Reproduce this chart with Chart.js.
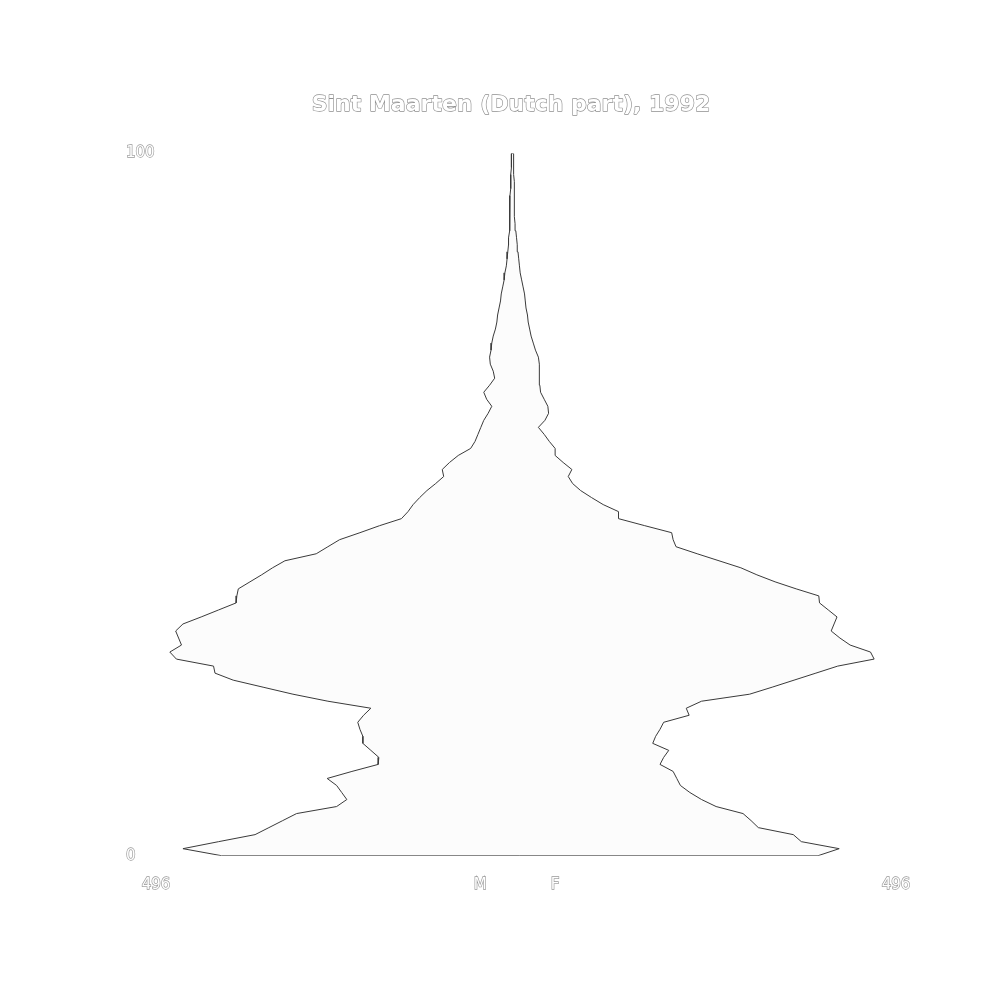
<!DOCTYPE html>
<html>
<head>
<meta charset="utf-8">
<style>
  html, body { margin: 0; padding: 0; background: #ffffff; }
  #wrap { width: 1000px; height: 1000px; }
</style>
<script src="https://cdn.jsdelivr.net/npm/chart.js"></script>
</head>
<body>
<div id="wrap"><canvas id="c" width="1000" height="1000"></canvas></div>
<script>
const titleText = 'Sint Maarten (Dutch part), 1992';

const ages = [0,1,2,3,4,5,6,7,8,9,10,11,12,13,14,15,16,17,18,19,20,21,22,23,24,25,26,27,28,29,30,31,32,33,34,35,36,37,38,39,40,41,42,43,44,45,46,47,48,49,50,51,52,53,54,55,56,57,58,59,60,61,62,63,64,65,66,67,68,69,70,71,72,73,74,75,76,77,78,79,80,81,82,83,84,85,86,87,88,89,90,91,92,93,94,95,96,97,98,99,100];

const males = [400,453,404,354,335,316,297,242,228,235,
  242,255,221,185,184,195,206,206,210,213,
  205,195,254,302,343,384,409,411,462,471,
  455,459,463,453,428,404,380,379,377,361,
  345,330,313,270,254,238,210,183,153,144,
  137,128,118,106,95,97,87,75,58,52,
  48,44,40,34,29,36,40,32,25,27,
  31,32,30,29,27,24,22,21,19,17,
  16,14,12,11,9,8,7,6,6,5,
  5,4,4,4,4,3,3,3,2,2,2];

const females = [419,448,396,385,337,327,316,279,259,243,
  230,225,220,202,207,214,192,196,202,207,
  242,238,259,325,356,386,416,446,496,491,
  463,449,437,441,445,433,421,420,389,360,
  335,313,283,253,224,220,218,181,145,145,
  124,108,93,82,76,81,69,58,58,50,
  43,35,44,49,48,43,38,37,37,36,
  36,35,31,28,25,23,21,20,18,17,
  16,14,12,10,9,8,7,6,5,4,
  3,2,2,2,2,2,2,1,1,1,1];

const xMin = -490, xMax = 526;
const xTickValues = [-490, -45, 58, 526];
const xTickLabels = ['496', 'M', 'F', '496'];
const yTickValues = [0, 100];
const yTickLabels = ['0', '100'];

// polygon: male side (negative) from top to bottom, then female side bottom to top
const outline = [];
for (let i = ages.length - 1; i >= 0; i--) outline.push({ x: -males[i], y: ages[i] });
for (let i = 0; i < ages.length; i++) outline.push({ x: females[i], y: ages[i] });
outline.push({ x: -males[ages.length - 1], y: ages[ages.length - 1] });

const strokeTitle = {
  id: 'strokeTitle',
  afterDraw(chart) {
    const tb = chart.titleBlock;
    if (!tb) return;
    const opts = tb.options;
    const font = Chart.helpers.toFont(opts.font);
    const pad = Chart.helpers.toPadding(opts.padding);
    const x = (tb.left + tb.right) / 2;
    const y = tb.top + pad.top + font.lineHeight / 2;
    const ctx = chart.ctx;
    ctx.save();
    ctx.font = font.string;
    ctx.textAlign = 'center';
    ctx.textBaseline = 'middle';
    ctx.lineJoin = 'round';
    ctx.lineWidth = 1.3;
    ctx.strokeStyle = '#909090';
    ctx.strokeText(titleText, x, y);
    ctx.fillStyle = '#ffffff';
    ctx.fillText(titleText, x, y);
    ctx.restore();
  }
};

new Chart(document.getElementById('c'), {
  type: 'scatter',
  data: {
    datasets: [{
      data: outline,
      showLine: true,
      fill: 'shape',
      backgroundColor: '#fcfcfc',
      borderColor: '#3a3a3a',
      borderWidth: 1,
      pointRadius: 0,
      tension: 0
    }]
  },
  options: {
    responsive: false,
    animation: false,
    events: [],
    layout: { padding: { left: 126, right: 104, top: 0, bottom: 0 } },
    plugins: {
      legend: { display: false },
      tooltip: { enabled: false },
      title: {
        display: true,
        text: titleText,
        color: '#ffffff',
        font: { family: 'DejaVu Sans', size: 22, weight: 'bold' },
        padding: { top: 92.5, bottom: 34.6 }
      }
    },
    scales: {
      x: {
        type: 'linear',
        min: xMin,
        max: xMax,
        grid: { display: false, drawTicks: false },
        border: { display: false },
        afterBuildTicks: (s) => { s.ticks = xTickValues.map(v => ({ value: v })); },
        afterFit: (s) => { s.height = 144.3; },
        ticks: {
          autoSkip: false,
          maxRotation: 0,
          padding: 20,
          color: '#ffffff',
          textStrokeColor: '#999999',
          textStrokeWidth: 1.3,
          font: { family: 'DejaVu Sans', size: 15 },
          callback: (v, i) => xTickLabels[i]
        }
      },
      y: {
        type: 'linear',
        min: 0,
        max: 100,
        grid: { display: false, drawTicks: false },
        border: { display: false },
        afterBuildTicks: (s) => { s.ticks = yTickValues.map(v => ({ value: v })); },
        afterFit: (s) => { s.width = 30; },
        ticks: {
          autoSkip: false,
          crossAlign: 'far',
          padding: 0,
          color: '#ffffff',
          textStrokeColor: '#999999',
          textStrokeWidth: 1.3,
          font: { family: 'DejaVu Sans', size: 15 },
          callback: (v, i) => yTickLabels[i]
        }
      }
    }
  },
  plugins: [strokeTitle]
});
</script>
</body>
</html>
